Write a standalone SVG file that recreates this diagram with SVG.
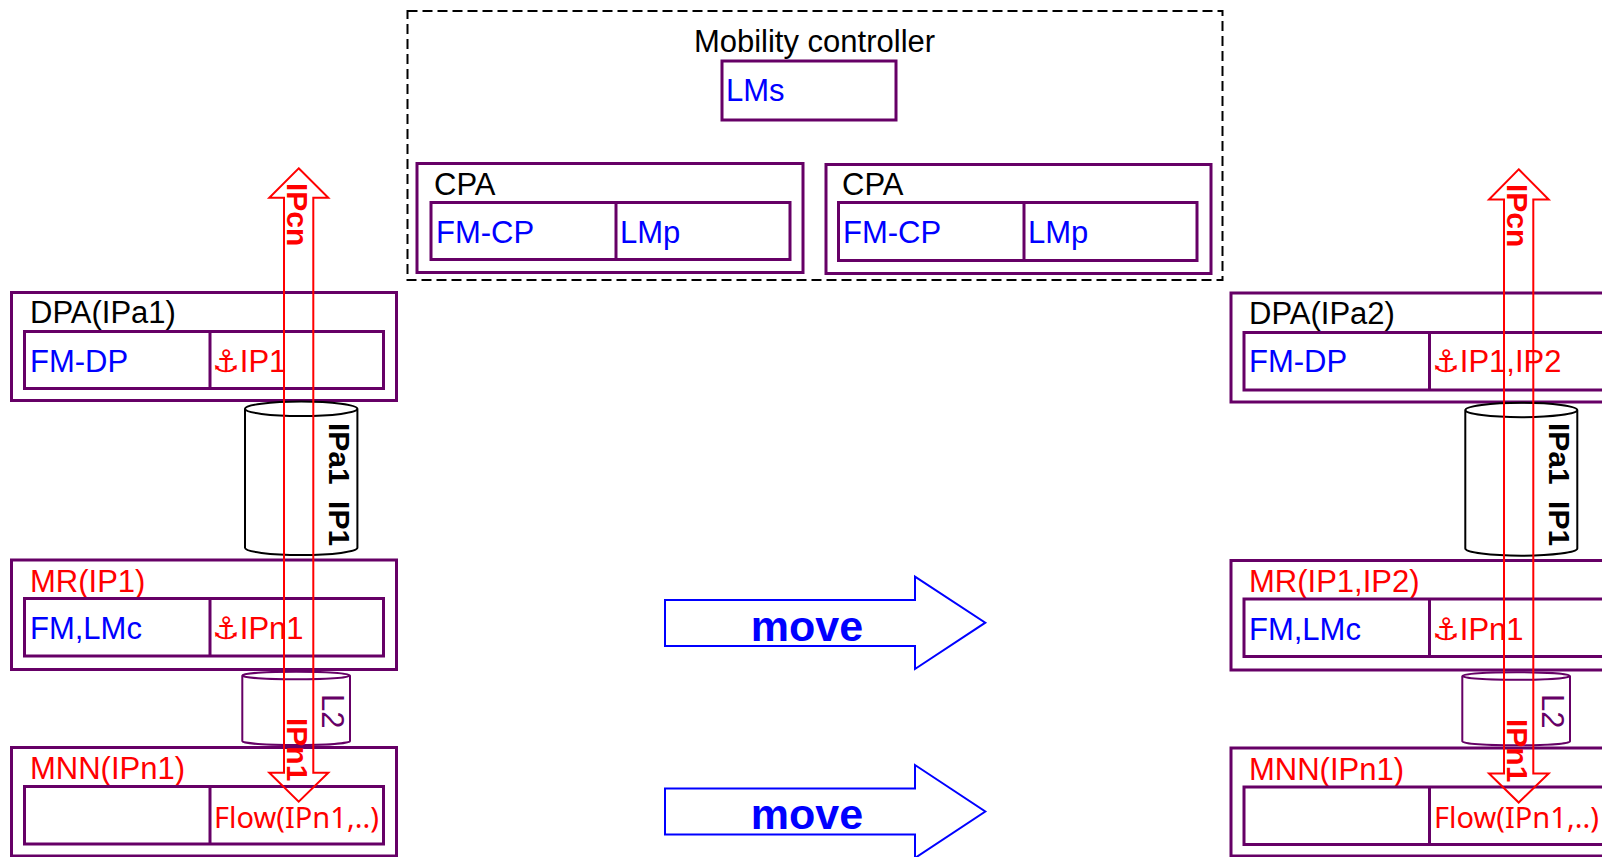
<svg xmlns="http://www.w3.org/2000/svg" width="1602" height="857" viewBox="0 0 1602 857">
<style>
.box{fill:none;stroke:#660066;stroke-width:3}
.lbl{font-family:"Liberation Sans","DejaVu Sans",Arial,sans-serif;font-size:31px}
.blk{fill:#000}
.blu{fill:#0000ff}
.red{fill:#ff0000}
.flow{font-family:"Noto Sans","Liberation Sans",sans-serif;font-size:29px;fill:#ff0000}
.vb{font-family:"Liberation Sans",Arial,sans-serif;font-weight:bold;font-size:30px}
.cylk{fill:none;stroke:#000;stroke-width:2}
.cylp{fill:none;stroke:#660066;stroke-width:2}
.redarrow{fill:none;stroke:#ff0000;stroke-width:2}
.move{fill:none;stroke:#0000ff;stroke-width:2}
.movet{font-family:"Liberation Sans",Arial,sans-serif;font-weight:bold;font-size:43px;fill:#0000ff}
</style>
<rect width="1602" height="857" fill="#fff"/>

<g id="mobility-controller">
<rect x="407.5" y="11" width="815" height="269" fill="none" stroke="#000" stroke-width="2" stroke-dasharray="10,5"/>
<text class="lbl blk" x="814.5" y="51.5" text-anchor="middle">Mobility controller</text>
</g>
<g id="lms">
<rect class="box" x="722" y="61" width="174" height="59"/>
<text class="lbl blu" x="726" y="101">LMs</text>
</g>
<g id="cpa1">
<rect class="box" x="417" y="163.5" width="386" height="109"/>
<text class="lbl blk" x="434" y="194.5">CPA</text>
<rect class="box" x="431" y="202.5" width="359" height="57"/>
<line class="box" x1="616" y1="202.5" x2="616" y2="259.5"/>
<text class="lbl blu" x="436" y="242.5">FM-CP</text>
<text class="lbl blu" x="620" y="242.5">LMp</text>
</g>
<g id="cpa2">
<rect class="box" x="826" y="164.5" width="385" height="109"/>
<text class="lbl blk" x="842" y="194.5">CPA</text>
<rect class="box" x="838.5" y="202.5" width="358.5" height="58"/>
<line class="box" x1="1024" y1="202.5" x2="1024" y2="260.5"/>
<text class="lbl blu" x="843" y="242.5">FM-CP</text>
<text class="lbl blu" x="1028" y="242.5">LMp</text>
</g>

<!-- Left side -->
<g id="dpa1">
<rect class="box" x="11.5" y="292.5" width="385" height="108"/>
<text class="lbl blk" x="30" y="323">DPA(IPa1)</text>
<rect class="box" x="24.5" y="331.5" width="359" height="57"/>
<line class="box" x1="210" y1="331.5" x2="210" y2="388.5"/>
<text class="lbl blu" x="30" y="371.5">FM-DP</text>
<text class="lbl red" x="212" y="371.5">⚓IP1</text>
</g>
<g id="tunnel1">
<path class="cylk" d="M245,408.8 A56.2,7.2 0 0 1 357.4,408.8 A56.2,7.2 0 0 1 245,408.8 L245,547.8 A56.2,7.2 0 0 0 357.4,547.8 L357.4,408.8"/>
<text class="vb blk" font-size="28" transform="translate(328.5,423) rotate(90)" word-spacing="8">IPa1 IP1</text>
</g>
<g id="mr1">
<rect class="box" x="11.5" y="560" width="385" height="109.5"/>
<text class="lbl red" x="30" y="591.5">MR(IP1)</text>
<rect class="box" x="24.5" y="598.5" width="359" height="57.5"/>
<line class="box" x1="210" y1="598.5" x2="210" y2="656"/>
<text class="lbl blu" x="30" y="639">FM,LMc</text>
<text class="lbl red" x="212" y="639">⚓IPn1</text>
</g>
<g id="l2-1">
<path class="cylp" d="M242.3,675.5 A53.85,3.8 0 0 1 350,675.5 A53.85,3.8 0 0 1 242.3,675.5 L242.3,741.2 A53.85,3.8 0 0 0 350,741.2 L350,675.5"/>
<text class="lbl" fill="#660066" font-size="30" transform="translate(321.5,694) rotate(90)">L2</text>
</g>
<g id="mnn1">
<rect class="box" x="11.5" y="747.5" width="385" height="108.5"/>
<text class="lbl red" x="30" y="779">MNN(IPn1)</text>
<rect class="box" x="24.5" y="786.5" width="359" height="57.5"/>
<line class="box" x1="210" y1="786.5" x2="210" y2="844"/>
<text class="flow" x="214" y="827.5">Flow(IPn1,..)</text>
</g>

<!-- Right side -->
<g id="dpa2">
<rect class="box" x="1231" y="293" width="385" height="109"/>
<text class="lbl blk" x="1249" y="323.5">DPA(IPa2)</text>
<rect class="box" x="1244" y="332.5" width="365" height="57.5"/>
<line class="box" x1="1429.5" y1="332.5" x2="1429.5" y2="390"/>
<text class="lbl blu" x="1249" y="372">FM-DP</text>
<text class="lbl red" x="1432" y="372">⚓IP1,IP2</text>
</g>
<g id="tunnel2">
<path class="cylk" d="M1465.3,410 A56,7.2 0 0 1 1577.3,410 A56,7.2 0 0 1 1465.3,410 L1465.3,548.5 A56,7.2 0 0 0 1577.3,548.5 L1577.3,410"/>
<text class="vb blk" font-size="28" transform="translate(1548.5,423) rotate(90)" word-spacing="8">IPa1 IP1</text>
</g>
<g id="mr2">
<rect class="box" x="1231" y="560.5" width="385" height="109.5"/>
<text class="lbl red" x="1249" y="592">MR(IP1,IP2)</text>
<rect class="box" x="1244" y="599" width="365" height="57.5"/>
<line class="box" x1="1429.5" y1="599" x2="1429.5" y2="656.5"/>
<text class="lbl blu" x="1249" y="639.5">FM,LMc</text>
<text class="lbl red" x="1432" y="639.5">⚓IPn1</text>
</g>
<g id="l2-2">
<path class="cylp" d="M1462.3,676 A53.85,3.8 0 0 1 1570,676 A53.85,3.8 0 0 1 1462.3,676 L1462.3,741.5 A53.85,3.8 0 0 0 1570,741.5 L1570,676"/>
<text class="lbl" fill="#660066" font-size="30" transform="translate(1541.5,694) rotate(90)">L2</text>
</g>
<g id="mnn2">
<rect class="box" x="1231" y="748" width="385" height="108"/>
<text class="lbl red" x="1249" y="779.5">MNN(IPn1)</text>
<rect class="box" x="1244" y="787" width="365" height="57.5"/>
<line class="box" x1="1429.5" y1="787" x2="1429.5" y2="844.5"/>
<text class="flow" x="1434" y="828">Flow(IPn1,..)</text>
</g>

<g id="connectors">
<path class="redarrow" d="M298.7,168.3 L328.3,197.7 L313.3,197.7 L313.3,772.7 L328.3,772.7 L298.7,801.7 L269.3,772.7 L284,772.7 L284,197.7 L269.3,197.7 Z"/>
<text class="vb red" transform="translate(287,183) rotate(90)">IPcn</text>
<text class="vb red" transform="translate(287,718) rotate(90)">IPn1</text>
<path class="redarrow" d="M1518.7,169.3 L1548.7,199.5 L1533.3,199.5 L1533.3,773.5 L1548.7,773.5 L1518.7,802.5 L1489,773.5 L1504,773.5 L1504,199.5 L1489,199.5 Z"/>
<text class="vb red" transform="translate(1506.5,184) rotate(90)">IPcn</text>
<text class="vb red" transform="translate(1506.5,719) rotate(90)">IPn1</text>
<polygon class="move" points="665,600 915,600 915,576.7 985.3,622.7 915,669 915,646 665,646"/>
<text class="movet" x="807" y="640.5" text-anchor="middle">move</text>
<polygon class="move" points="665,788.5 915,788.5 915,765 985.3,811.5 915,858 915,834.5 665,834.5"/>
<text class="movet" x="807" y="829.3" text-anchor="middle">move</text>
</g>
</svg>
